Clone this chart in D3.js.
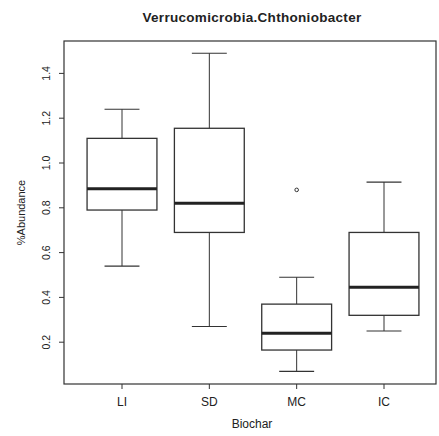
<!DOCTYPE html>
<html>
<head>
<meta charset="utf-8">
<script src="https://cdn.jsdelivr.net/npm/d3@7"></script>
<style>
  html, body { margin: 0; padding: 0; background: #fff; }
  svg { display: block; }
  text { font-family: "Liberation Sans", Arial, sans-serif; fill: #222; }
</style>
</head>
<body>
<svg id="chart" width="439" height="436"></svg>
<script>
// Groups and five-number summaries (lower whisker, Q1, median, Q3, upper whisker)
const categories = ["LI", "SD", "MC", "IC"];
const whiskerLow  = [0.54, 0.27, 0.07, 0.25];
const q1          = [0.79, 0.69, 0.165, 0.32];
const medians     = [0.885, 0.82, 0.24, 0.445];
const q3          = [1.11, 1.155, 0.37, 0.69];
const whiskerHigh = [1.24, 1.49, 0.49, 0.915];
// Outlying observations: [group index, value]
const outliers = [[2, 0.88]];
const yTicks = [0.2, 0.4, 0.6, 0.8, 1.0, 1.2, 1.4];

const title = "Verrucomicrobia.Chthoniobacter";
const xTitle = "Biochar";
const yTitle = "%Abundance";

const svg = d3.select("#chart");
const frame = { left: 64, right: 436, top: 41, bottom: 384 };

const x = d3.scaleLinear().domain([1, 4]).range([122, 384]);
const y = d3.scaleLinear().domain([0, 1.4]).range([387, 73.4]);
const unit = x(2) - x(1);
const boxW = unit * 0.8;
const capW = boxW * 0.5;

// plot frame
svg.append("rect")
  .attr("x", frame.left).attr("y", frame.top)
  .attr("width", frame.right - frame.left).attr("height", frame.bottom - frame.top)
  .attr("fill", "none").attr("stroke", "#333").attr("stroke-width", 1.2);

// title
svg.append("text")
  .attr("x", 252).attr("y", 22)
  .attr("text-anchor", "middle")
  .attr("font-size", 13.5).attr("font-weight", "bold")
  .attr("letter-spacing", 0.3)
  .text(title);

// y axis (left, labels rotated parallel to the axis)
const yAxis = svg.append("g").attr("transform", `translate(${frame.left},0)`);
yAxis.selectAll("line.tick").data(yTicks).join("line")
  .attr("class", "tick")
  .attr("x1", 0).attr("x2", -5)
  .attr("y1", d => y(d)).attr("y2", d => y(d))
  .attr("stroke", "#333");
yAxis.selectAll("text").data(yTicks).join("text")
  .attr("transform", d => `translate(-14,${y(d)}) rotate(-90)`)
  .attr("text-anchor", "middle")
  .attr("font-size", 10.5)
  .text(d3.format(".1f"));

svg.append("text")
  .attr("transform", `translate(25,${(frame.top + frame.bottom) / 2}) rotate(-90)`)
  .attr("text-anchor", "middle")
  .attr("font-size", 11)
  .text(yTitle);

// x axis
const xAxis = svg.append("g").attr("transform", `translate(0,${frame.bottom})`);
xAxis.selectAll("line").data(categories).join("line")
  .attr("x1", (d, i) => x(i + 1)).attr("x2", (d, i) => x(i + 1))
  .attr("y1", 0).attr("y2", 5)
  .attr("stroke", "#333");
xAxis.selectAll("text").data(categories).join("text")
  .attr("x", (d, i) => x(i + 1)).attr("y", 22)
  .attr("text-anchor", "middle")
  .attr("font-size", 12)
  .text(d => d);

svg.append("text")
  .attr("x", 252).attr("y", 428)
  .attr("text-anchor", "middle")
  .attr("font-size", 12)
  .text(xTitle);

// boxes
const groups = svg.append("g").selectAll("g").data(categories).join("g");
const stroke = "#333";

groups.append("line") // upper whisker
  .attr("x1", (d, i) => x(i + 1)).attr("x2", (d, i) => x(i + 1))
  .attr("y1", (d, i) => y(q3[i])).attr("y2", (d, i) => y(whiskerHigh[i]))
  .attr("stroke", stroke).attr("stroke-width", 1);
groups.append("line") // lower whisker
  .attr("x1", (d, i) => x(i + 1)).attr("x2", (d, i) => x(i + 1))
  .attr("y1", (d, i) => y(q1[i])).attr("y2", (d, i) => y(whiskerLow[i]))
  .attr("stroke", stroke).attr("stroke-width", 1);
groups.append("line")
  .attr("x1", (d, i) => x(i + 1) - capW / 2).attr("x2", (d, i) => x(i + 1) + capW / 2)
  .attr("y1", (d, i) => y(whiskerHigh[i])).attr("y2", (d, i) => y(whiskerHigh[i]))
  .attr("stroke", stroke).attr("stroke-width", 1.2);
groups.append("line")
  .attr("x1", (d, i) => x(i + 1) - capW / 2).attr("x2", (d, i) => x(i + 1) + capW / 2)
  .attr("y1", (d, i) => y(whiskerLow[i])).attr("y2", (d, i) => y(whiskerLow[i]))
  .attr("stroke", stroke).attr("stroke-width", 1.2);
groups.append("rect")
  .attr("x", (d, i) => x(i + 1) - boxW / 2)
  .attr("width", boxW)
  .attr("y", (d, i) => y(q3[i]))
  .attr("height", (d, i) => y(q1[i]) - y(q3[i]))
  .attr("fill", "#fff").attr("stroke", stroke).attr("stroke-width", 1.3);
groups.append("line")
  .attr("x1", (d, i) => x(i + 1) - boxW / 2).attr("x2", (d, i) => x(i + 1) + boxW / 2)
  .attr("y1", (d, i) => y(medians[i])).attr("y2", (d, i) => y(medians[i]))
  .attr("stroke", "#222").attr("stroke-width", 3);

// outliers
svg.append("g").selectAll("circle").data(outliers).join("circle")
  .attr("cx", d => x(d[0] + 1)).attr("cy", d => y(d[1]))
  .attr("r", 1.8)
  .attr("fill", "none").attr("stroke", stroke).attr("stroke-width", 1);
</script>
</body>
</html>
